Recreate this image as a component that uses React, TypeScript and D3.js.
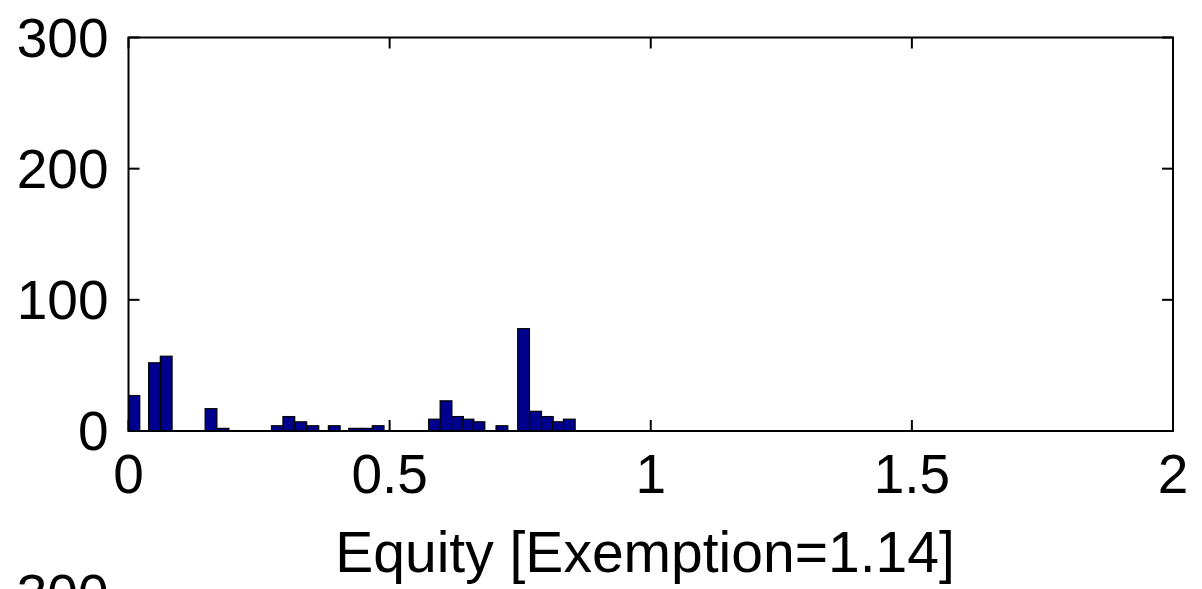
import React from "react";
import * as d3 from "d3";

const binCenters = [0.0103, 0.0498, 0.0722, 0.158, 0.181, 0.285, 0.307, 0.33, 0.353, 0.394, 0.433, 0.456, 0.478, 0.586, 0.608, 0.63, 0.65, 0.671, 0.715, 0.7565, 0.7795, 0.802, 0.823, 0.844];
const counts = [27, 52, 57, 17, 2, 4, 11, 7, 4, 4, 2, 2, 4, 9, 23, 11, 9, 7, 4, 78, 15, 11, 7, 9];
const binWidth = 0.0225;
const xTicks = [0, 0.5, 1, 1.5, 2];
const xTickLabels = ["0", "0.5", "1", "1.5", "2"];
const yTicks = [0, 100, 200, 300];
const yTickLabels = ["0", "100", "200", "300"];
const xLabel = "Equity [Exemption=1.14]";
const nextPanelTopLabel = "300";

const W = 1202;
const H = 589;
const left = 128.5;
const right = 1173;
const top = 37.5;
const bottom = 431;
const tickLen = 11;
const font = "'Liberation Sans', Arial, Helvetica, sans-serif";
const fs = 55;

export default function App() {
  const x = d3.scaleLinear().domain([0, 2]).range([left, right]);
  const y = d3.scaleLinear().domain([0, 300]).range([bottom, top]);

  return (
    <svg
      width={W}
      height={H}
      style={{ position: "absolute", left: 0, top: 0, background: "#fff" }}
    >
      <defs>
        <clipPath id="plot">
          <rect x={left} y={top} width={right - left} height={bottom - top} />
        </clipPath>
      </defs>
      <rect x={0} y={0} width={W} height={H} fill="#fff" />
      <g clipPath="url(#plot)">
        {binCenters.map((c, i) => (
          <rect
            key={i}
            x={x(c - binWidth / 2)}
            y={y(counts[i])}
            width={x(c + binWidth / 2) - x(c - binWidth / 2)}
            height={y(0) - y(counts[i])}
            fill="#00008f"
            stroke="#000"
            strokeWidth={1.2}
          />
        ))}
      </g>
      <rect
        x={left}
        y={top}
        width={right - left}
        height={bottom - top}
        fill="none"
        stroke="#000"
        strokeWidth={2}
      />
      {xTicks.map((t, i) => (
        <g key={"xt" + i}>
          <line x1={x(t)} x2={x(t)} y1={bottom} y2={bottom - tickLen} stroke="#000" strokeWidth={2} />
          <line x1={x(t)} x2={x(t)} y1={top} y2={top + tickLen} stroke="#000" strokeWidth={2} />
          <text
            x={x(t)}
            y={bottom + 22}
            dominantBaseline="hanging"
            textAnchor="middle"
            fontFamily={font}
            fontSize={fs}
            fill="#000"
          >
            {xTickLabels[i]}
          </text>
        </g>
      ))}
      {yTicks.map((t, i) => (
        <g key={"yt" + i}>
          <line x1={left} x2={left + tickLen} y1={y(t)} y2={y(t)} stroke="#000" strokeWidth={2} />
          <line x1={right} x2={right - tickLen} y1={y(t)} y2={y(t)} stroke="#000" strokeWidth={2} />
          <text
            x={left - 20}
            y={y(t)}
            dominantBaseline="central"
            textAnchor="end"
            fontFamily={font}
            fontSize={fs}
            fill="#000"
          >
            {yTickLabels[i]}
          </text>
        </g>
      ))}
      <text
        x={645}
        y={572}
        textAnchor="middle"
        fontFamily={font}
        fontSize={57}
        fill="#000"
      >
        {xLabel}
      </text>
      <text
        x={left - 20}
        y={573}
        dominantBaseline="hanging"
        textAnchor="end"
        fontFamily={font}
        fontSize={fs}
        fill="#000"
      >
        {nextPanelTopLabel}
      </text>
    </svg>
  );
}
